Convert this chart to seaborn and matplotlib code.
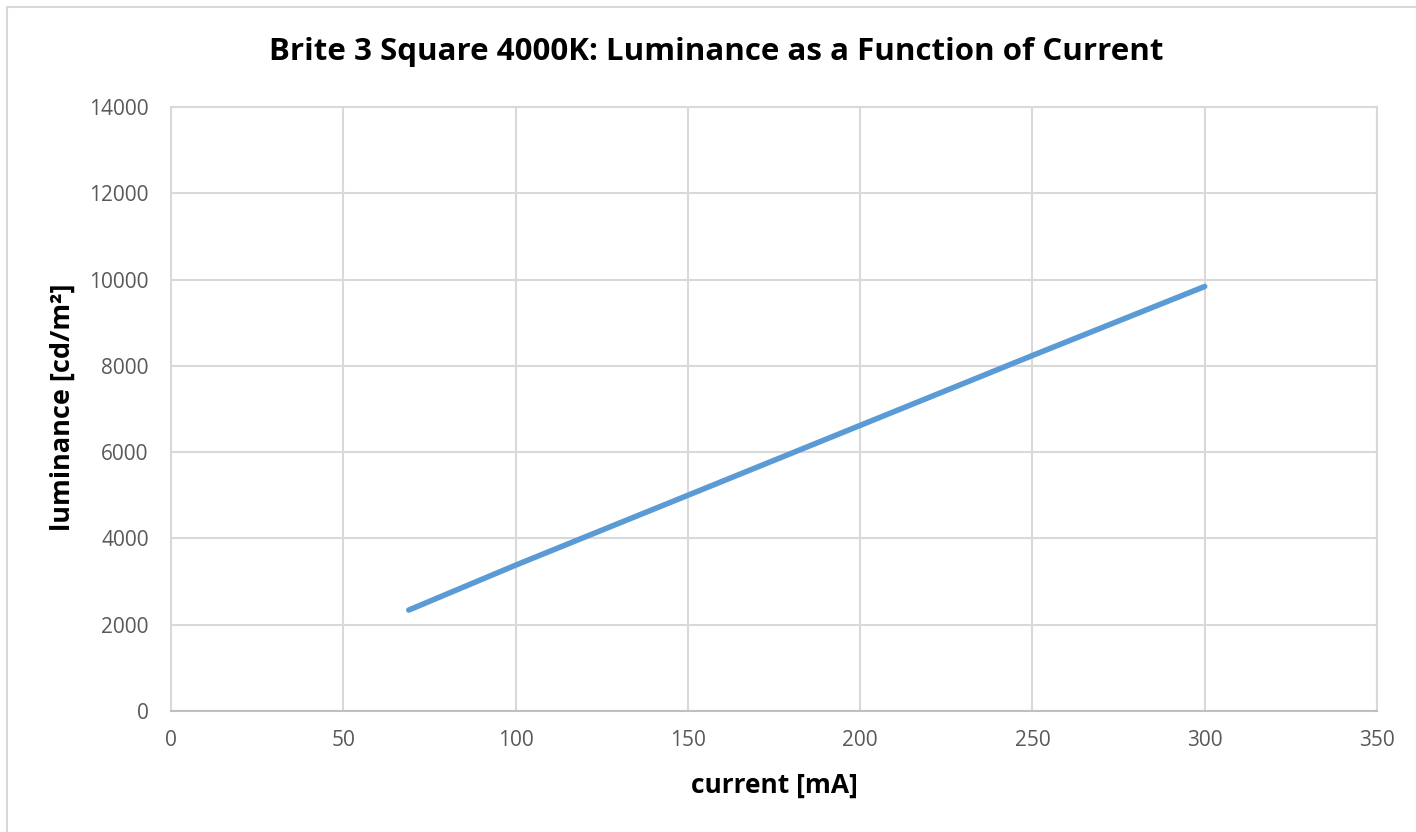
import pandas as pd
import seaborn as sns
import matplotlib.pyplot as plt
from matplotlib.lines import Line2D

# current [mA] vs luminance [cd/m²]
current = [69, 100, 150, 200, 250, 300]
luminance = [2340, 3380, 5000, 6620, 8240, 9840]

x_ticks = [0, 50, 100, 150, 200, 250, 300, 350]
y_ticks = [0, 2000, 4000, 6000, 8000, 10000, 12000, 14000]

data = pd.DataFrame({'current': current, 'luminance': luminance})

sns.set_theme(style='white')
plt.rcParams['font.family'] = ['Open Sans', 'DejaVu Sans']

W, H = 1416, 832
fig = plt.figure(figsize=(W / 100, H / 100), dpi=100)
ax = fig.add_axes([171 / W, 1 - 711 / H, (1377 - 171) / W, (711 - 107) / H])

sns.lineplot(data=data, x='current', y='luminance', ax=ax, color='#5b9bd5',
             linewidth=4, solid_capstyle='round', zorder=3)

ax.set_xlim(0, 350)
ax.set_ylim(0, 14000)
ax.set_xticks(x_ticks)
ax.set_yticks(y_ticks)
ax.grid(True, color='#d9d9d9', linewidth=1.5, zorder=0)
ax.tick_params(axis='both', labelsize=15, colors='#595959', length=0)
ax.tick_params(axis='x', pad=14)
ax.tick_params(axis='y', pad=16)
for side in ['top', 'right', 'left']:
    ax.spines[side].set_color('#d9d9d9')
    ax.spines[side].set_linewidth(1.5)
ax.spines['bottom'].set_color('#bfbfbf')
ax.spines['bottom'].set_linewidth(1.5)

ax.set_xlabel('current [mA]', fontsize=19, fontweight='bold', color='black', va='center')
ax.set_ylabel('luminance [cd/m²]', fontsize=19.5, fontweight='bold', color='black',
              va='center', ha='center')
ax.xaxis.set_label_coords(0.5, (711 - 785) / 604)
ax.yaxis.set_label_coords((63 - 171) / 1206, 0.503)

fig.text(716 / W, 1 - 52 / H, 'Brite 3 Square 4000K: Luminance as a Function of Current',
         ha='center', va='center', fontsize=22.5, fontweight='bold', color='black')

# outer chart border
fig.add_artist(Line2D([7 / W, 1], [1 - 7 / H, 1 - 7 / H], color='#d9d9d9', linewidth=1.5))
fig.add_artist(Line2D([7 / W, 7 / W], [0, 1 - 7 / H], color='#d9d9d9', linewidth=1.5))

plt.savefig('out.png', dpi=100)
